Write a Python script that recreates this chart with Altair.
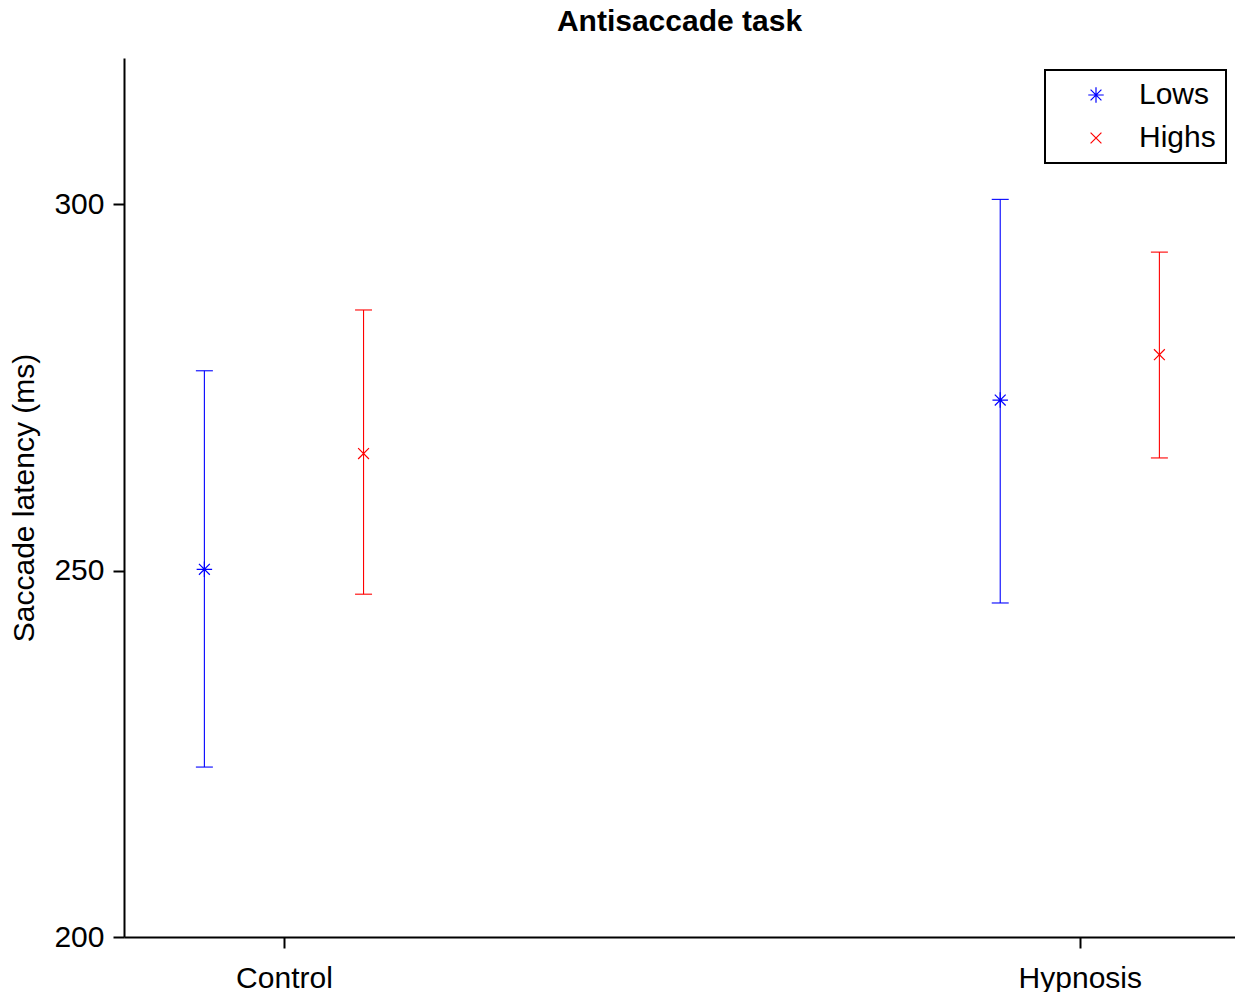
import altair as alt
import pandas as pd

# ---- data ----
conditions = ["Control", "Hypnosis"]
groups = ["Lows", "Highs"]
lows_mean = [250.2, 273.3]
lows_lower = [223.2, 245.6]
lows_upper = [277.3, 300.7]
highs_mean = [266.0, 279.5]
highs_lower = [246.8, 265.4]
highs_upper = [285.6, 293.5]

group_offset = {"Lows": -0.1, "Highs": 0.1}
series = {
    "Lows": (lows_mean, lows_lower, lows_upper),
    "Highs": (highs_mean, highs_lower, highs_upper),
}
rows = []
for g in groups:
    m, lo, hi = series[g]
    for i, c in enumerate(conditions):
        rows.append({"condition": c, "group": g, "x": i + 1 + group_offset[g],
                     "mean": m[i], "lower": lo[i], "upper": hi[i]})
df = pd.DataFrame(rows)

FONT = "Liberation Sans"
asterisk = "M-1,0L1,0M0,-1L0,1M-0.7,-0.7L0.7,0.7M-0.7,0.7L0.7,-0.7"
xmark = "M-0.7,-0.7L0.7,0.7M-0.7,0.7L0.7,-0.7"

label_expr = " : ".join(
    [f"datum.value == {i + 1} ? '{c}'" for i, c in enumerate(conditions[:-1])]
    + [f"'{conditions[-1]}'"]
)

x_enc = alt.X("x:Q", scale=alt.Scale(domain=[0.799, 2.195], nice=False, zero=False),
              axis=alt.Axis(values=[1, 2], labelExpr=label_expr, title=None,
                            tickSize=11, labelPadding=15, grid=False))
color_scale = alt.Scale(domain=groups, range=["#0000ff", "#ff0000"])
shape_scale = alt.Scale(domain=groups, range=[asterisk, xmark])
legend = alt.Legend(title=None, orient="none", legendX=921, legendY=12)

base = alt.Chart(df)

bars = base.mark_rule(strokeWidth=1.1).encode(
    x=x_enc,
    y=alt.Y("lower:Q", scale=alt.Scale(domain=[200, 320], nice=False, zero=False),
            axis=alt.Axis(values=[200, 250, 300], title="Saccade latency (ms)",
                          tickSize=11, labelPadding=9, titlePadding=14, grid=False)),
    y2="upper:Q",
    color=alt.Color("group:N", scale=color_scale, legend=legend),
)

cap_hi = base.mark_tick(orient="horizontal", size=17, thickness=1.1, opacity=1).encode(
    x="x:Q", y="upper:Q",
    color=alt.Color("group:N", scale=color_scale, legend=legend),
)
cap_lo = base.mark_tick(orient="horizontal", size=17, thickness=1.1, opacity=1).encode(
    x="x:Q", y="lower:Q",
    color=alt.Color("group:N", scale=color_scale, legend=legend),
)

points = base.mark_point(filled=False, strokeWidth=1.2, size=240, opacity=1).encode(
    x="x:Q", y="mean:Q",
    color=alt.Color("group:N", scale=color_scale, legend=legend),
    shape=alt.Shape("group:N", scale=shape_scale, legend=legend),
)

chart = (
    alt.layer(bars, cap_hi, cap_lo, points)
    .properties(
        width=1111, height=879,
        title=alt.TitleParams("Antisaccade task", fontSize=30, fontWeight="bold",
                              font=FONT, anchor="middle", offset=21, color="black"),
        autosize=alt.AutoSizeParams(type="none"),
        padding={"left": 116, "top": 50, "right": 0, "bottom": 55},
    )
    .configure_view(stroke=None)
    .configure_axis(
        labelFont=FONT, titleFont=FONT, labelFontSize=30, titleFontSize=30,
        titleFontWeight="normal", labelColor="black", titleColor="black",
        domainColor="black", tickColor="black", domainWidth=2, tickWidth=2,
    )
    .configure_legend(
        labelFont=FONT, labelFontSize=30, labelColor="black",
        strokeColor="black", strokeWidth=2, fillColor="white",
        padding=10, rowPadding=13, symbolOffset=26, labelOffset=28,
        symbolSize=240, symbolStrokeWidth=1.2, symbolOpacity=1,
    )
)

chart.save("out.html", embed_options={"renderer": "svg", "actions": False})
